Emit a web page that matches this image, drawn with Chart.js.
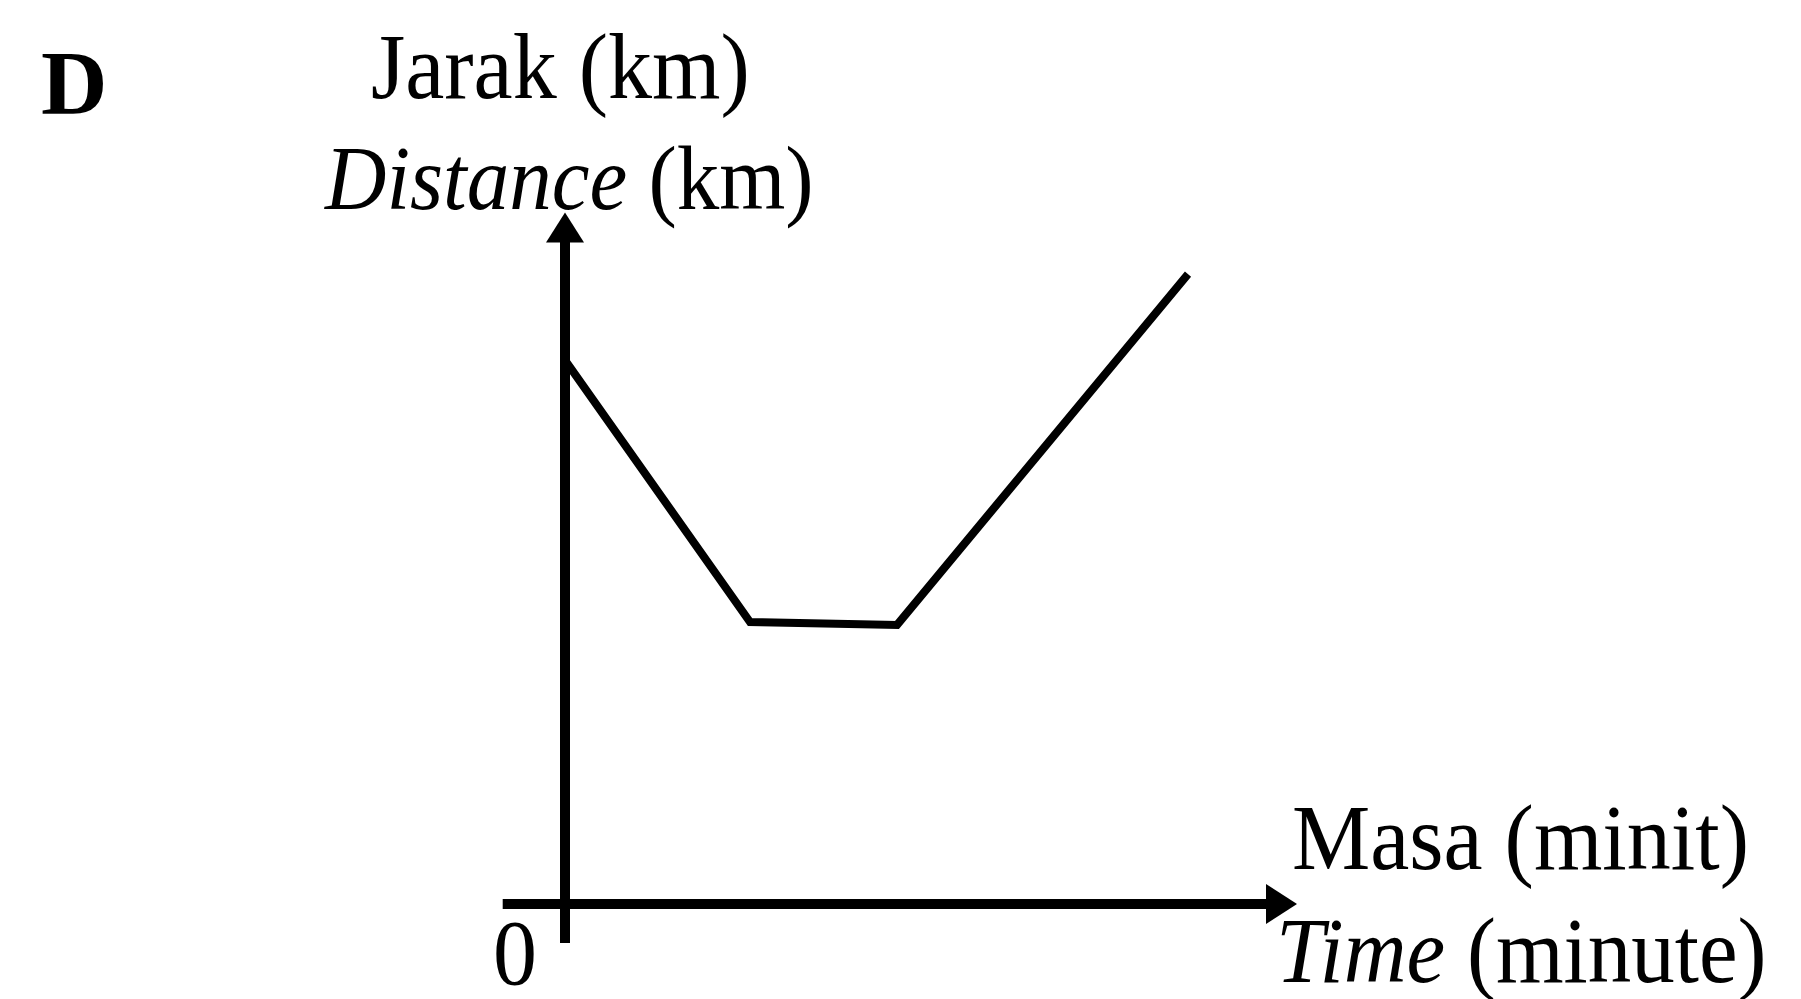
<!DOCTYPE html>
<html>
<head>
<meta charset="utf-8">
<script src="https://cdn.jsdelivr.net/npm/chart.js@4"></script>
<style>
  html, body { margin: 0; padding: 0; background: #fff; }
  #wrap { position: relative; width: 1801px; height: 999px; }
</style>
</head>
<body>
<div id="wrap"><canvas id="c"></canvas></div>
<script>
// Data (arbitrary units: time in minutes, distance in km)
const timeValues = [0, 5.94, 10.66, 20.0];
const distanceValues = [17.46, 9.05, 8.96, 20.22];

// Axis extents (data units)
const xAxisStart = -2.0, xAxisTip = 23.5;
const yAxisStart = -1.25, yAxisTip = 22.2;

// Labels
const panelLetter = 'D';
const yTitleMalay = 'Jarak (km)';
const yTitleEnglishItalic = 'Distance';
const yTitleEnglishUnit = ' (km)';
const xTitleMalay = 'Masa (minit)';
const xTitleEnglishItalic = 'Time';
const xTitleEnglishUnit = ' (minute)';
const originLabel = '0';

const points = timeValues.map((t, i) => ({ x: t, y: distanceValues[i] }));

const FONT = '"Liberation Serif", "Times New Roman", serif';

function stretchedText(ctx, text, x, y, sy) {
  ctx.save();
  ctx.translate(x, y);
  ctx.scale(1, sy);
  ctx.fillText(text, 0, 0);
  ctx.restore();
}

const axesPlugin = {
  id: 'arrowAxes',
  afterDraw(chart) {
    const ctx = chart.ctx;
    const xs = chart.scales.x, ys = chart.scales.y;
    const ox = xs.getPixelForValue(0), oy = ys.getPixelForValue(0);
    const xl = xs.getPixelForValue(xAxisStart), xt = xs.getPixelForValue(xAxisTip);
    const yb = ys.getPixelForValue(yAxisStart), yt = ys.getPixelForValue(yAxisTip);
    ctx.save();
    ctx.strokeStyle = '#000';
    ctx.fillStyle = '#000';
    ctx.lineWidth = 10;
    ctx.lineCap = 'butt';
    // x axis
    ctx.beginPath();
    ctx.moveTo(xl, oy);
    ctx.lineTo(xt - 20, oy);
    ctx.stroke();
    ctx.beginPath();
    ctx.moveTo(xt, oy);
    ctx.lineTo(xt - 31, oy - 20);
    ctx.lineTo(xt - 31, oy + 20);
    ctx.closePath();
    ctx.fill();
    // y axis
    ctx.beginPath();
    ctx.moveTo(ox, yb);
    ctx.lineTo(ox, yt + 20);
    ctx.stroke();
    ctx.beginPath();
    ctx.moveTo(ox, yt);
    ctx.lineTo(ox - 19, yt + 30);
    ctx.lineTo(ox + 19, yt + 30);
    ctx.closePath();
    ctx.fill();

    // Texts
    const sy = 1.06;
    ctx.textBaseline = 'alphabetic';
    ctx.textAlign = 'left';
    ctx.font = 'bold 92px ' + FONT;
    stretchedText(ctx, panelLetter, 41, 114, 1.0);

    ctx.font = '88px ' + FONT;
    stretchedText(ctx, yTitleMalay, 371, 98, sy);

    let x0 = 325;
    ctx.font = 'italic 85px ' + FONT;
    stretchedText(ctx, yTitleEnglishItalic, x0, 209, sy);
    x0 += ctx.measureText(yTitleEnglishItalic).width;
    ctx.font = '85px ' + FONT;
    stretchedText(ctx, yTitleEnglishUnit, x0, 209, sy);

    ctx.font = '88px ' + FONT;
    stretchedText(ctx, xTitleMalay, 1292, 869, sy);

    let x1 = 1276;
    ctx.font = 'italic 87px ' + FONT;
    stretchedText(ctx, xTitleEnglishItalic, x1, 982, sy);
    x1 += ctx.measureText(xTitleEnglishItalic).width;
    ctx.font = '87px ' + FONT;
    stretchedText(ctx, xTitleEnglishUnit, x1, 982, sy);

    ctx.font = '88px ' + FONT;
    stretchedText(ctx, originLabel, 493, 984, sy);
    ctx.restore();
  }
};

const pxPerUnit = 31.15;
new Chart(document.getElementById('c'), {
  type: 'line',
  data: {
    datasets: [{
      data: points,
      borderColor: '#000',
      borderWidth: 8,
      pointRadius: 0,
      tension: 0,
      fill: false,
      borderJoinStyle: 'miter',
      borderCapStyle: 'butt',
      clip: false
    }]
  },
  options: {
    responsive: true,
    maintainAspectRatio: false,
    animation: false,
    events: [],
    layout: {
      padding: {
        left: 565,
        right: 1801 - 565 - 25 * pxPerUnit,
        top: 904 - 22 * pxPerUnit,
        bottom: 95
      }
    },
    plugins: { legend: { display: false }, tooltip: { enabled: false } },
    scales: {
      x: { type: 'linear', min: 0, max: 25, display: false },
      y: { type: 'linear', min: 0, max: 22, display: false }
    }
  },
  plugins: [axesPlugin]
});
</script>
</body>
</html>
